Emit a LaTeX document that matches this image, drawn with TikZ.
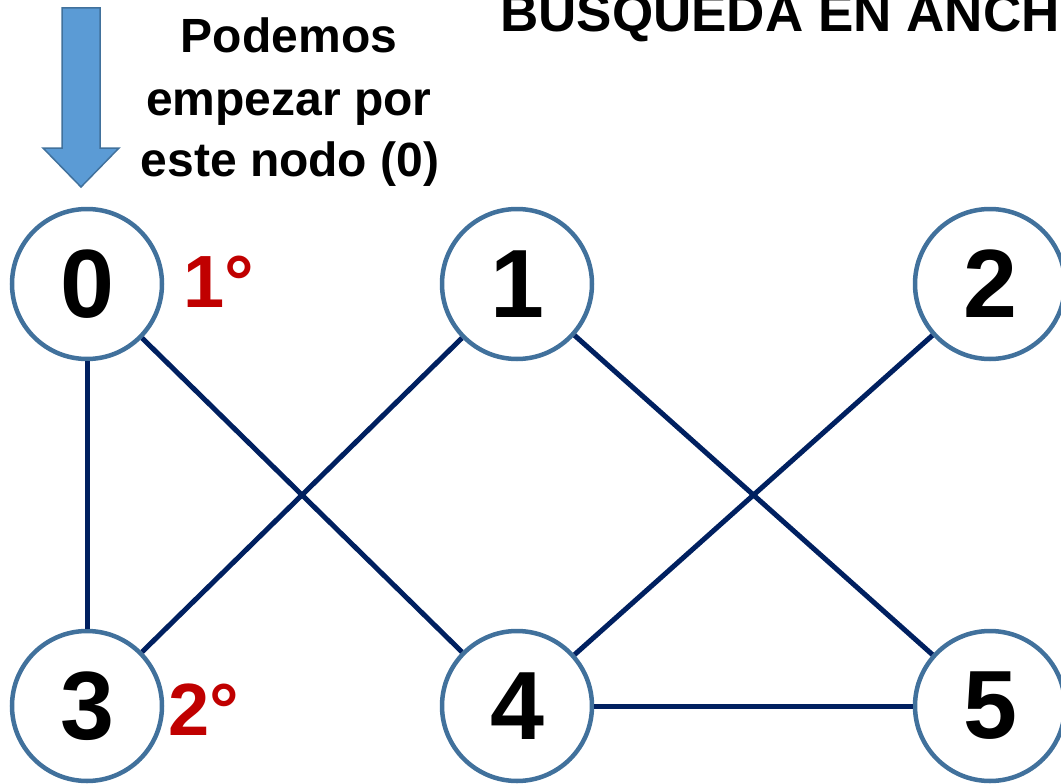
\documentclass[tikz,border=0pt]{standalone}
\usepackage{fontspec}
\setmainfont{Liberation Sans}
\definecolor{nodeblue}{HTML}{41719C}
\definecolor{edgenavy}{HTML}{002060}
\definecolor{ordred}{HTML}{C00000}
\definecolor{arrowfill}{HTML}{5B9BD5}
\begin{document}
\begin{tikzpicture}[x=1pt,y=-1pt,
  vert/.style={circle, draw=nodeblue, line width=4.5pt, fill=white, minimum size=150pt, inner sep=0pt, font=\fontsize{97}{100}\selectfont\bfseries},
  edge/.style={draw=edgenavy, line width=5pt},
  lbl/.style={font=\fontsize{48}{58}\selectfont\bfseries, anchor=base, inner sep=0pt},
  ttl/.style={font=\fontsize{53}{60}\selectfont\bfseries, anchor=base west, inner sep=0pt},
  ord/.style={font=\fontsize{74}{80}\selectfont\bfseries, text=ordred, anchor=base, inner sep=0pt},
  startarrow/.style={fill=arrowfill, draw=nodeblue, line width=1.5pt, line join=miter}]
\useasboundingbox (0,0) rectangle (1061,784);
% start arrow
\draw[startarrow] (62,8) -- (100,8) -- (100,148) -- (119,148) -- (81,187) -- (43,148) -- (62,148) -- cycle;
% texts
\node[ttl] (title) at (500,32) {BUSQUEDA EN ANCH};
\node[lbl] (t1) at (289,53) {Podemos};
\node[lbl] (t2) at (289,116) {empezar por};
\node[lbl] (t3) at (290,176) {este nodo (0)};
% vertices
\node[vert] (n0) at (87,284) {0};
\node[vert] (n1) at (517,284) {1};
\node[vert] (n2) at (990,284) {2};
\node[vert] (n3) at (87,706) {3};
\node[vert] (n4) at (517,706) {4};
\node[vert] (n5) at (990,706) {5};
% order labels
\node[ord] (o1) at (219,307) {1°};
\node[ord] (o2) at (204,735) {2°};
% edges
\draw[edge] (n0) -- (n3);
\draw[edge] (n0) -- (n4);
\draw[edge] (n1) -- (n3);
\draw[edge] (n1) -- (n5);
\draw[edge] (n2) -- (n4);
\draw[edge] (n4) -- (n5);
\end{tikzpicture}
\end{document}
